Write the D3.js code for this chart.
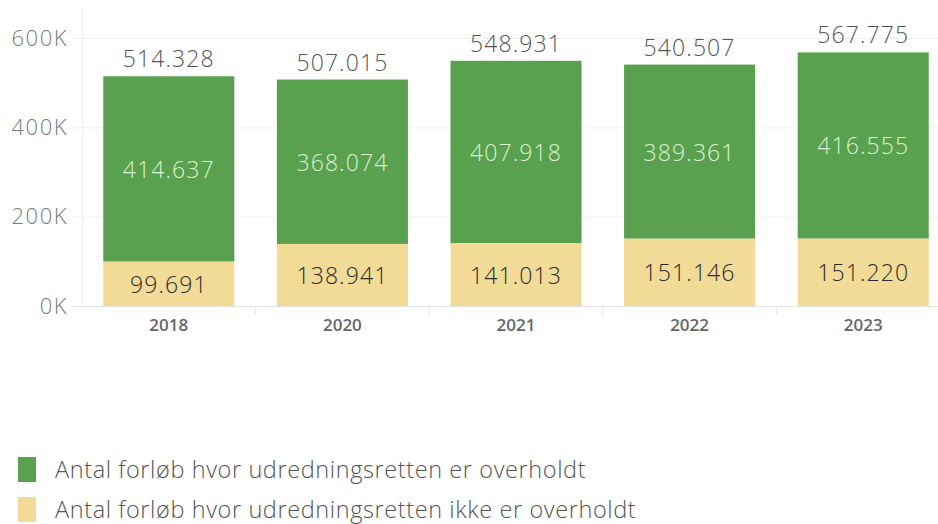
<!DOCTYPE html>
<html>
<head>
<meta charset="utf-8">
<script src="https://cdn.jsdelivr.net/npm/d3@7"></script>
<style>
  body { margin: 0; background: #fff; }
  text { font-family: "Open Sans", "Noto Sans", sans-serif; font-weight: 300; }
</style>
</head>
<body>
<svg id="chart" width="938" height="524"></svg>
<script>
const years = ['2018', '2020', '2021', '2022', '2023'];
const overholdt = [414637, 368074, 407918, 389361, 416555];
const ikkeOverholdt = [99691, 138941, 141013, 151146, 151220];
const yTicks = [0, 200000, 400000, 600000];
const legendLabels = [
  'Antal forløb hvor udredningsretten er overholdt',
  'Antal forløb hvor udredningsretten ikke er overholdt',
];

const green = '#59a14f';
const yellow = '#f2da97';

const svg = d3.select('#chart');
const fmt = v => d3.format(',')(v).replace(/,/g, '.');

const x = d3.scaleBand()
  .domain(years)
  .range([82, 950])
  .paddingInner(0.245)
  .paddingOuter(0.1225);

const y = d3.scaleLinear()
  .domain([0, 600000])
  .range([306, 38]);

// gridlines
svg.selectAll('line.grid')
  .data(yTicks)
  .enter()
  .append('line')
  .attr('x1', 72)
  .attr('x2', 938)
  .attr('y1', d => y(d) + 0.5)
  .attr('y2', d => y(d) + 0.5)
  .attr('stroke', d => (d === 0 ? '#e2e2e2' : '#efefef'))
  .attr('stroke-width', 1);

// left axis line
svg.append('line')
  .attr('x1', 82.5).attr('x2', 82.5)
  .attr('y1', 8).attr('y2', 306)
  .attr('stroke', '#f0f0f0');

svg.selectAll('text.ytick')
  .data(yTicks)
  .enter()
  .append('text')
  .attr('x', 68)
  .attr('y', d => y(d))
  .attr('dy', '0.35em')
  .attr('text-anchor', 'end')
  .attr('fill', '#7a7a7a')
  .style('font-size', '22px')
  .style('letter-spacing', '1.5px')
  .text(d => `${d / 1000}K`);

// header separators under the x axis
svg.selectAll('line.sep')
  .data(years.slice(1))
  .enter()
  .append('line')
  .attr('x1', d => x(d) - (x.step() - x.bandwidth()) / 2)
  .attr('x2', d => x(d) - (x.step() - x.bandwidth()) / 2)
  .attr('y1', 308)
  .attr('y2', 315)
  .attr('stroke', '#e2e2e2');

const rows = years.map((yr, i) => ({
  yr,
  a: ikkeOverholdt[i],
  b: overholdt[i],
  total: ikkeOverholdt[i] + overholdt[i],
}));

// yellow segment
svg.selectAll('rect.ikke')
  .data(rows)
  .enter()
  .append('rect')
  .attr('x', d => x(d.yr))
  .attr('width', x.bandwidth())
  .attr('y', d => y(d.a))
  .attr('height', d => y(0) - y(d.a))
  .attr('fill', yellow);

// green segment
svg.selectAll('rect.over')
  .data(rows)
  .enter()
  .append('rect')
  .attr('x', d => x(d.yr))
  .attr('width', x.bandwidth())
  .attr('y', d => y(d.total))
  .attr('height', d => y(d.a) - y(d.total))
  .attr('fill', green);

svg.selectAll('text.lblA')
  .data(rows)
  .enter()
  .append('text')
  .attr('x', d => x(d.yr) + x.bandwidth() / 2)
  .attr('y', d => (y(0) + y(d.a)) / 2 + 1)
  .attr('dy', '0.35em')
  .attr('text-anchor', 'middle')
  .attr('fill', '#2b2b2b')
  .style('font-size', '23px')
  .style('letter-spacing', '1.1px')
  .text(d => fmt(d.a));

svg.selectAll('text.lblB')
  .data(rows)
  .enter()
  .append('text')
  .attr('x', d => x(d.yr) + x.bandwidth() / 2)
  .attr('y', d => (y(d.a) + y(d.total)) / 2 + 1)
  .attr('dy', '0.35em')
  .attr('text-anchor', 'middle')
  .attr('fill', '#d9f2d3')
  .style('font-size', '23px')
  .style('letter-spacing', '1.1px')
  .text(d => fmt(d.b));

svg.selectAll('text.total')
  .data(rows)
  .enter()
  .append('text')
  .attr('x', d => x(d.yr) + x.bandwidth() / 2)
  .attr('y', d => y(d.total) - 9)
  .attr('text-anchor', 'middle')
  .attr('fill', '#555')
  .style('font-size', '23px')
  .style('letter-spacing', '1.1px')
  .text(d => fmt(d.total));

svg.selectAll('text.year')
  .data(years)
  .enter()
  .append('text')
  .attr('x', d => x(d) + x.bandwidth() / 2)
  .attr('y', 331)
  .attr('text-anchor', 'middle')
  .attr('fill', '#666')
  .style('font-size', '17px')
  .style('font-weight', 600)
  .text(d => d);

// legend
const legend = svg.selectAll('g.legend')
  .data(legendLabels)
  .enter()
  .append('g')
  .attr('transform', (d, i) => `translate(18, ${457 + i * 40})`);

legend.append('rect')
  .attr('width', 18)
  .attr('height', 25)
  .attr('fill', (d, i) => (i === 0 ? green : yellow));

legend.append('text')
  .attr('x', 37)
  .attr('y', 13)
  .attr('dy', '0.35em')
  .attr('fill', '#555')
  .style('font-size', '23.5px')
  .style('letter-spacing', '0.6px')
  .text(d => d);
</script>
</body>
</html>
